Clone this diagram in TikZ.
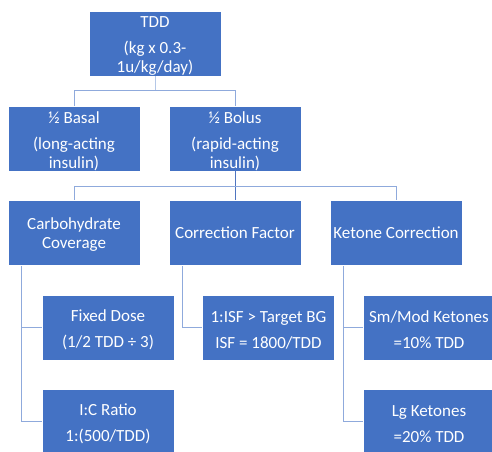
\documentclass[tikz,border=0pt]{standalone}
\usepackage{fontspec}
\setmainfont{Carlito}
\definecolor{boxblue}{HTML}{4472C4}
\definecolor{linelight}{HTML}{8FAADC}
\definecolor{linepale}{HTML}{B4C7E7}
\definecolor{linedark}{HTML}{4F75C0}
\begin{document}
\begin{tikzpicture}[x=1pt,y=-1pt,
  blk/.style={draw=white,line width=0.6pt,fill=boxblue,
    minimum width=132pt,minimum height=65pt,inner sep=0pt},
  txt/.style={text=white,inner sep=0pt,align=center,yshift=-2.5pt,
    font=\fontsize{17}{19}\selectfont},
  conn/.style={draw=linelight,line width=0.9pt},
  connpale/.style={draw=linepale,line width=0.9pt},
  conndark/.style={draw=linedark,line width=0.9pt}]
\useasboundingbox (0,0) rectangle (492,451);
\clip (0,0) rectangle (492,451);
\node[blk] (tdd) at (155,43.5) {};
\node[txt] (tdd-t) at (tdd) {TDD\\[7pt](kg x 0.3-\\1u/kg/day)};
\node[blk] (basal) at (74,138.5) {};
\node[txt] (basal-t) at (basal) {½ Basal\\[7pt](long-acting\\insulin)};
\node[blk] (bolus) at (235,138.5) {};
\node[txt] (bolus-t) at (bolus) {½ Bolus\\[7pt](rapid-acting\\insulin)};
\node[blk] (carb) at (74,233) {};
\node[txt,yshift=1pt] (carb-t) at (carb) {Carbohydrate\\Coverage};
\node[blk] (corr) at (235,233) {};
\node[txt,yshift=2.5pt] (corr-t) at (corr) {Correction Factor};
\node[blk] (ket) at (396,233) {};
\node[txt,yshift=2.5pt] (ket-t) at (ket) {Ketone Correction};
\node[blk] (fixed) at (108,327.5) {};
\node[txt] (fixed-t) at (fixed) {Fixed Dose\\[7pt](1/2 TDD ÷ 3)};
\node[blk] (ic) at (108,421.5) {};
\node[txt] (ic-t) at (ic) {I:C Ratio\\[7pt]1:(500/TDD)};
\node[blk] (isf) at (268.5,327.5) {};
\node[txt] (isf-t) at (isf) {1:ISF > Target BG\\[7pt]ISF = 1800/TDD};
\node[blk] (smmod) at (429,327.5) {};
\node[txt] (smmod-t) at (smmod) {Sm/Mod Ketones\\[7pt]=10\% TDD};
\node[blk] (lg) at (429,421.5) {};
\node[txt] (lg-t) at (lg) {Lg Ketones\\[7pt]=20\% TDD};
% level 1
\coordinate (j1) at (155,90);
\draw[connpale] (tdd.south) -- (j1);
\draw[conn] (j1) -| (basal.north);
\draw[conn] (j1) -| (bolus.north);
% level 2
\coordinate (j2) at (235,186);
\draw[conndark] (bolus.south) -- (bolus.south |- carb.north);
\draw[conn] (j2) -| (carb.north);
\draw[conn] (j2) -| (ket.north);
% sub items
\coordinate (c1) at (21,266);
\coordinate (c2) at (182,266);
\coordinate (c3) at (343,266);
\draw[conn] (c1) |- (ic.west);
\draw[conn] (c1 |- fixed.west) -- (fixed.west);
\draw[conn] (c2) |- (isf.west);
\draw[conn] (c3) |- (lg.west);
\draw[conn] (c3 |- smmod.west) -- (smmod.west);
\end{tikzpicture}
\end{document}
